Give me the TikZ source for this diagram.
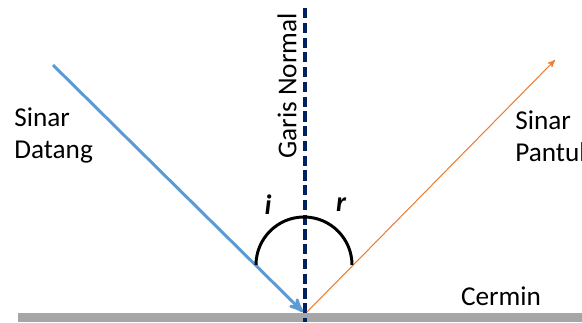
\documentclass[tikz,border=0pt]{standalone}
\usepackage{fontspec}
\setmainfont{Carlito}
\usetikzlibrary{arrows}

\definecolor{normalblue}{HTML}{002060}
\definecolor{rayblue}{HTML}{5B9BD5}
\definecolor{rayorange}{HTML}{ED7D31}
\definecolor{mirrorgray}{HTML}{A6A6A6}

\begin{document}
\begin{tikzpicture}[
    x=0.02cm, y=-0.02cm,
    label/.style={font=\fontsize{15.5}{18.2}\selectfont, align=left, inner sep=0pt},
    angle/.style={font=\fontsize{16}{18}\selectfont\bfseries\itshape, inner sep=0pt},
    ray/.style={-stealth', rounded corners},
    ]
    \clip (0,0) rectangle (582,322);
    % mirror and normal
    \fill[mirrorgray] (18,313) rectangle (582,322);
    \coordinate (normtop) at (305,8);
    \coordinate (hit) at (305,322);
    \draw[normalblue, line width=2.3pt, dash pattern=on 5.8pt off 2.6pt]
    (normtop) -- (hit);
    % rays
    \coordinate (instart) at (53,65);
    \coordinate (inend) at (303,312);
    \coordinate (outstart) at (307,312);
    \coordinate (outend) at (555,60);
    \draw[ray, rayblue, line width=1.7pt] (instart) -- (inend);
    \draw[ray, rayorange, line width=0.6pt] (outstart) -- (outend);
    % angle arc
    \draw[black, line width=1.7pt] (256,265) arc[start angle=180, end angle=360, radius=48];
    \node[angle] (i) at (268,205) {i};
    \node[angle] (r) at (341,205) {r};
    % labels
    \node[label, anchor=north west] (datang) at (14,107) {Sinar\\Datang};
    \node[label, anchor=north west] (pantul) at (515,110) {Sinar\\Pantul};
    \node[label, rotate=90] (normal) at (287,86) {Garis Normal};
    \node[label] (cermin) at (501,296) {Cermin};
\end{tikzpicture}
\end{document}
